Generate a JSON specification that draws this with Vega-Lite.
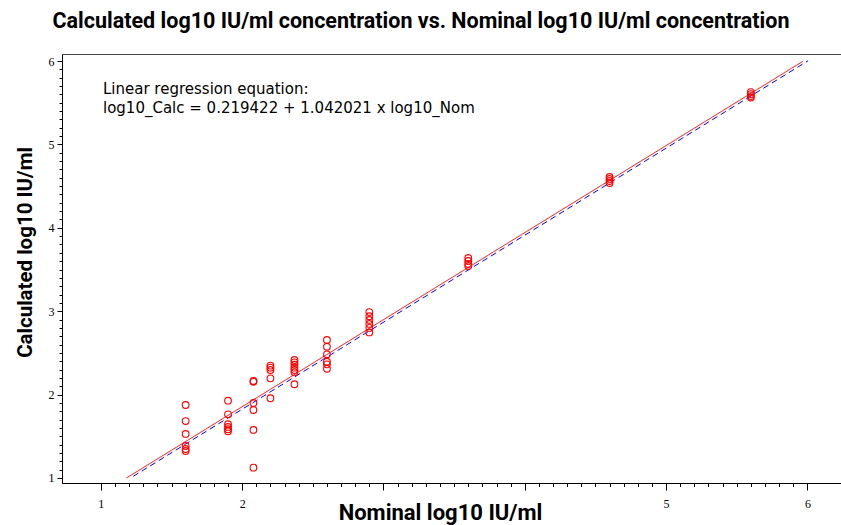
{
  "$schema": "https://vega.github.io/schema/vega-lite/v6.json",
  "autosize": "none",
  "width": 780,
  "height": 429,
  "padding": {"left": 62, "top": 54, "right": 0, "bottom": 42},
  "background": "white",
  "config": {
    "view": {"stroke": "#444", "strokeWidth": 1}
  },
  "title": {
    "text": "Calculated log10 IU/ml concentration vs. Nominal log10 IU/ml concentration",
    "font": "Roboto",
    "fontWeight": "bold",
    "fontSize": 21.5,
    "color": "black",
    "anchor": "middle",
    "dx": -31,
    "offset": 22
  },
  "datasets": {
    "points": [
      {"nom": 1.6, "calc": 1.875}, {"nom": 1.6, "calc": 1.683}, {"nom": 1.6, "calc": 1.528},
      {"nom": 1.6, "calc": 1.384}, {"nom": 1.6, "calc": 1.348}, {"nom": 1.6, "calc": 1.324},
      {"nom": 1.9, "calc": 1.927}, {"nom": 1.9, "calc": 1.764}, {"nom": 1.9, "calc": 1.645},
      {"nom": 1.9, "calc": 1.612}, {"nom": 1.9, "calc": 1.585}, {"nom": 1.9, "calc": 1.56},
      {"nom": 2.08, "calc": 2.163}, {"nom": 2.08, "calc": 2.153}, {"nom": 2.08, "calc": 1.9},
      {"nom": 2.08, "calc": 1.815}, {"nom": 2.08, "calc": 1.576}, {"nom": 2.08, "calc": 1.124},
      {"nom": 2.2, "calc": 2.347}, {"nom": 2.2, "calc": 2.323}, {"nom": 2.2, "calc": 2.295},
      {"nom": 2.2, "calc": 2.195}, {"nom": 2.2, "calc": 1.956},
      {"nom": 2.37, "calc": 2.415}, {"nom": 2.37, "calc": 2.387}, {"nom": 2.37, "calc": 2.358},
      {"nom": 2.37, "calc": 2.323}, {"nom": 2.37, "calc": 2.295}, {"nom": 2.37, "calc": 2.267},
      {"nom": 2.37, "calc": 2.124},
      {"nom": 2.6, "calc": 2.655}, {"nom": 2.6, "calc": 2.574}, {"nom": 2.6, "calc": 2.483},
      {"nom": 2.6, "calc": 2.394}, {"nom": 2.6, "calc": 2.363}, {"nom": 2.6, "calc": 2.31},
      {"nom": 2.9, "calc": 2.99}, {"nom": 2.9, "calc": 2.94}, {"nom": 2.9, "calc": 2.895},
      {"nom": 2.9, "calc": 2.847}, {"nom": 2.9, "calc": 2.8}, {"nom": 2.9, "calc": 2.745},
      {"nom": 3.6, "calc": 3.638}, {"nom": 3.6, "calc": 3.602}, {"nom": 3.6, "calc": 3.566},
      {"nom": 3.6, "calc": 3.542},
      {"nom": 4.6, "calc": 4.609}, {"nom": 4.6, "calc": 4.585}, {"nom": 4.6, "calc": 4.561},
      {"nom": 4.6, "calc": 4.537},
      {"nom": 5.6, "calc": 5.628}, {"nom": 5.6, "calc": 5.604}, {"nom": 5.6, "calc": 5.58},
      {"nom": 5.6, "calc": 5.562}
    ],
    "lines": [
      {"series": "fit", "x": 1.181, "y": 1.0},
      {"series": "fit", "x": 5.97, "y": 5.998},
      {"series": "ref", "x": 1.229, "y": 1.02},
      {"series": "ref", "x": 6.005, "y": 6.003}
    ],
    "notes": [
      {"line1": "Linear regression equation:", "line2": "log10_Calc = 0.219422 + 1.042021 x log10_Nom"}
    ]
  },
  "layer": [
    {
      "data": {"name": "lines"},
      "mark": {"type": "line", "strokeWidth": 1, "clip": true},
      "encoding": {
        "x": {
          "field": "x", "type": "quantitative",
          "scale": {"domain": [0.725, 6.245], "nice": false, "zero": false},
          "axis": {
            "values": [1, 1.1, 1.2, 1.3, 1.4, 1.5, 1.6, 1.7, 1.8, 1.9, 2, 2.1, 2.2, 2.3, 2.4, 2.5, 2.6, 2.7, 2.8, 2.9, 3, 3.1, 3.2, 3.3, 3.4, 3.5, 3.6, 3.7, 3.8, 3.9, 4, 4.1, 4.2, 4.3, 4.4, 4.5, 4.6, 4.7, 4.8, 4.9, 5, 5.1, 5.2, 5.3, 5.4, 5.5, 5.6, 5.7, 5.8, 5.9, 6],
            "tickCount": 500,
            "format": ".0f",
            "labelExpr": "(abs(datum.value - 1) < 0.001 || abs(datum.value - 2) < 0.001 || abs(datum.value - 5) < 0.001 || abs(datum.value - 6) < 0.001) ? datum.label : ''",
            "tickSize": {"condition": {"test": "abs(datum.value - round(datum.value)) < 0.001", "value": 7}, "value": 3.5},
            "grid": false,
            "title": "Nominal log10 IU/ml",
            "titleFont": "Roboto",
            "titleFontSize": 22,
            "titleFontWeight": "bold",
            "titleColor": "black",
            "titlePadding": -7,
            "titleX": 378,
            "labelFont": "Liberation Serif",
            "labelFontSize": 12,
            "labelColor": "black",
            "labelPadding": 8,
            "labelOverlap": false,
            "labelFlush": false,
            "domainColor": "black",
            "tickColor": "black"
          }
        },
        "y": {
          "field": "y", "type": "quantitative",
          "scale": {"domain": [0.94, 6.084], "nice": false, "zero": false},
          "axis": {
            "values": [1, 1.1, 1.2, 1.3, 1.4, 1.5, 1.6, 1.7, 1.8, 1.9, 2, 2.1, 2.2, 2.3, 2.4, 2.5, 2.6, 2.7, 2.8, 2.9, 3, 3.1, 3.2, 3.3, 3.4, 3.5, 3.6, 3.7, 3.8, 3.9, 4, 4.1, 4.2, 4.3, 4.4, 4.5, 4.6, 4.7, 4.8, 4.9, 5, 5.1, 5.2, 5.3, 5.4, 5.5, 5.6, 5.7, 5.8, 5.9, 6],
            "tickCount": 500,
            "format": ".0f",
            "labelExpr": "abs(datum.value - round(datum.value)) < 0.001 ? datum.label : ''",
            "tickSize": {"condition": {"test": "abs(datum.value - round(datum.value)) < 0.001", "value": 5}, "value": 3},
            "grid": false,
            "title": "Calculated log10 IU/ml",
            "titleFont": "Roboto",
            "titleFontSize": 20.5,
            "titleFontWeight": "bold",
            "titleColor": "black",
            "titlePadding": 13,
            "titleY": 198,
            "labelFont": "Liberation Serif",
            "labelFontSize": 12,
            "labelColor": "black",
            "labelPadding": 3,
            "labelOverlap": false,
            "labelFlush": false,
            "domainColor": "black",
            "tickColor": "black"
          }
        },
        "color": {"field": "series", "type": "nominal", "scale": {"domain": ["fit", "ref"], "range": ["#ff0000", "#0000ff"]}, "legend": null},
        "strokeDash": {"field": "series", "type": "nominal", "scale": {"domain": ["fit", "ref"], "range": [[1, 0], [6, 4]]}, "legend": null}
      }
    },
    {
      "data": {"name": "points"},
      "mark": {"type": "point", "shape": "circle", "filled": false, "color": "#ff0000", "size": 45, "strokeWidth": 1.1, "opacity": 1},
      "encoding": {
        "x": {"field": "nom", "type": "quantitative"},
        "y": {"field": "calc", "type": "quantitative"}
      }
    },
    {
      "data": {"name": "notes"},
      "mark": {"type": "text", "align": "left", "baseline": "top", "font": "DejaVu Sans", "fontSize": 15, "color": "black", "lineHeight": 19},
      "encoding": {
        "x": {"datum": 1.015},
        "y": {"datum": 5.75},
        "text": {"value": ["Linear regression equation:", "log10_Calc = 0.219422 + 1.042021 x log10_Nom"]}
      }
    }
  ],
  "resolve": {"scale": {"color": "independent", "strokeDash": "independent"}}
}
